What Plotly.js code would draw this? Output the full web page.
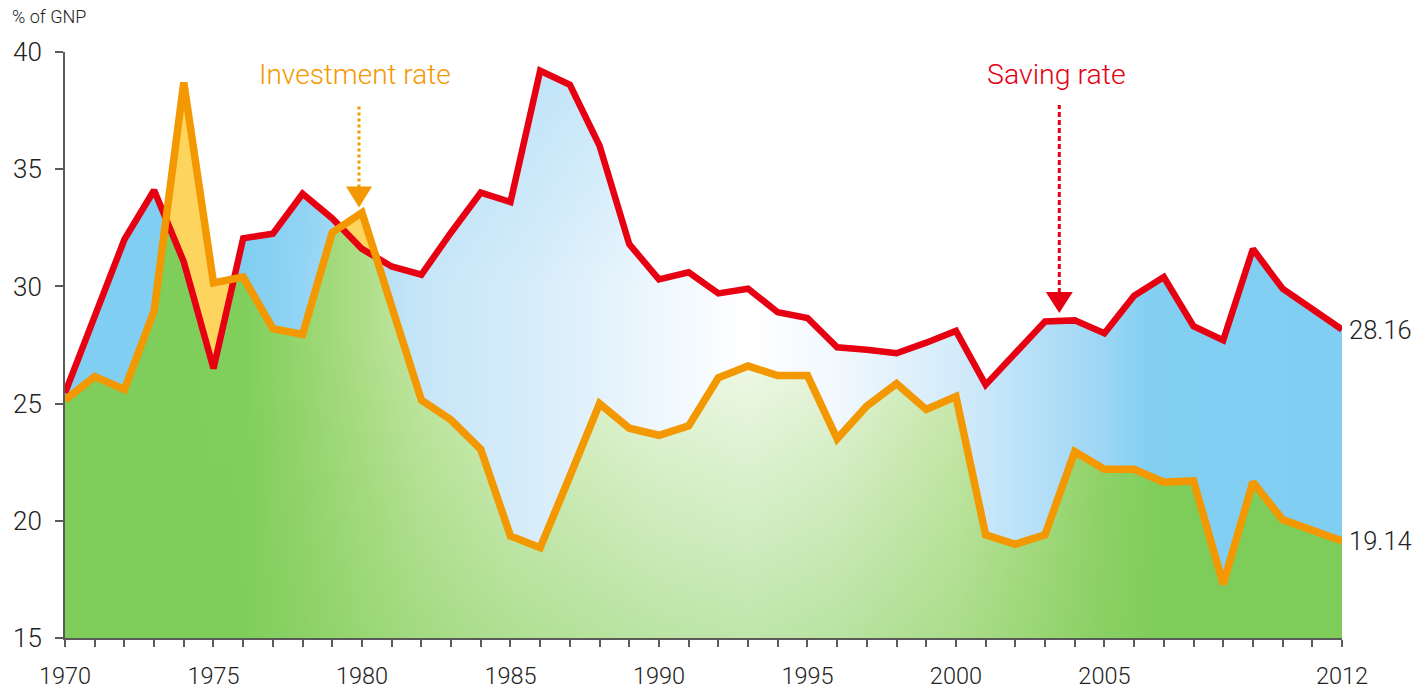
<!DOCTYPE html>
<html>
<head>
<meta charset="utf-8">
<script src="https://cdn.plot.ly/plotly-3.0.1.min.js"></script>
<style>
  html, body { margin: 0; padding: 0; background: #ffffff; }
  #chart { width: 1417px; height: 690px; }
</style>
</head>
<body>
<div id="chart"></div>
<script>
// ---- data (% of GNP) ----
// The reference draws its final observation (labelled 2012) on the 44th yearly tick,
// so the last point sits one tick after 2011 on the yearly grid.
const years = [1970, 1971, 1972, 1973, 1974, 1975, 1976, 1977, 1978, 1979,
               1980, 1981, 1982, 1983, 1984, 1985, 1986, 1987, 1988, 1989,
               1990, 1991, 1992, 1993, 1994, 1995, 1996, 1997, 1998, 1999,
               2000, 2001, 2002, 2003, 2004, 2005, 2006, 2007, 2008, 2009,
               2010, 2011, 2013];

const savingRate = [25.45, 28.7, 32.0, 34.1, 31.05, 26.5, 32.05, 32.25, 33.95, 32.9,
                    31.6, 30.85, 30.5, 32.3, 34.0, 33.6, 39.2, 38.6, 36.0, 31.8,
                    30.3, 30.6, 29.7, 29.9, 28.9, 28.65, 27.4, 27.3, 27.15, 27.6,
                    28.1, 25.8, 27.15, 28.5, 28.55, 28.0, 29.6, 30.4, 28.3, 27.7,
                    31.6, 29.9, 28.16];

const investmentRate = [25.15, 26.15, 25.6, 28.95, 38.7, 30.15, 30.4, 28.2, 27.95, 32.3,
                        33.15, 29.15, 25.15, 24.3, 23.05, 19.35, 18.85, 21.9, 25.0, 23.95,
                        23.65, 24.05, 26.1, 26.6, 26.2, 26.2, 23.5, 24.9, 25.85, 24.75,
                        25.3, 19.4, 19.0, 19.4, 22.95, 22.2, 22.2, 21.65, 21.7, 17.3,
                        21.65, 20.05, 19.14];

const tickLabels = ['1970', '1975', '1980', '1985', '1990', '1995', '2000', '2005', '2012'];
const tickLabelYears = [1970, 1975, 1980, 1985, 1990, 1995, 2000, 2005, years[years.length - 1]];

const seriesNames = ['Saving rate', 'Investment rate'];
const yAxisLabel = '% of GNP';

// ---- styling ----
const RED = '#E60012';
const ORANGE = '#F39800';
const YELLOW = '#FDD55E';
const AXIS = '#5a5a5a';
const TEXT = '#222222';
const FONT = 'Roboto, "Liberation Sans", Arial, sans-serif';

// lower envelope of the two series (green area), including the crossing points
function lowerEnvelope(x, a, b) {
  const ox = [], oy = [];
  for (let i = 0; i < x.length; i++) {
    ox.push(x[i]); oy.push(Math.min(a[i], b[i]));
    if (i < x.length - 1) {
      const d0 = a[i] - b[i], d1 = a[i + 1] - b[i + 1];
      if (d0 * d1 < 0) {
        const t = d0 / (d0 - d1);
        ox.push(x[i] + t * (x[i + 1] - x[i]));
        oy.push(a[i] + t * (a[i + 1] - a[i]));
      }
    }
  }
  return { x: ox, y: oy };
}
function valueAt(x, ys, xv) {
  for (let i = 0; i < x.length - 1; i++) {
    if (xv >= x[i] && xv <= x[i + 1]) {
      const t = (xv - x[i]) / (x[i + 1] - x[i]);
      return ys[i] + t * (ys[i + 1] - ys[i]);
    }
  }
  return ys[ys.length - 1];
}

const env = lowerEnvelope(years, savingRate, investmentRate);
const xFirst = years[0], xLast = years[years.length - 1];

const blueScale = [
  [0, '#80CEF2'], [0.14, '#80CEF2'], [0.186, '#93D4F4'], [0.233, '#AEDDF6'],
  [0.279, '#C6E6F8'], [0.372, '#D8EDFA'], [0.465, '#EEF7FD'], [0.535, '#FFFFFF'],
  [0.605, '#F1F8FE'], [0.698, '#D3EBFA'], [0.767, '#B3DEF7'], [0.814, '#9BD6F4'],
  [0.85, '#82CFF2'], [1, '#80CEF2']
];
const greenScale = [
  [0, '#7ECD5A'], [0.14, '#80CE5C'], [0.186, '#97D56F'], [0.233, '#AEDE88'],
  [0.279, '#C3E6A3'], [0.349, '#D8EFC2'], [0.465, '#EDF7E2'], [0.535, '#F3FAEC'],
  [0.605, '#E9F5DD'], [0.698, '#CFEAB2'], [0.767, '#ADDC86'], [0.814, '#92D26A'],
  [0.86, '#7ECD5A'], [1, '#7ECD5A']
];

const traces = [
  { // yellow: where investment exceeds saving
    x: years, y: investmentRate, type: 'scatter', mode: 'lines',
    line: { width: 0 }, fill: 'tozeroy', fillcolor: YELLOW, hoverinfo: 'skip'
  },
  { // blue area under the saving rate
    x: years, y: savingRate, type: 'scatter', mode: 'lines',
    line: { width: 0 }, fill: 'tozeroy', hoverinfo: 'skip',
    fillgradient: { type: 'horizontal', start: xFirst, stop: xLast, colorscale: blueScale }
  },
  {
    x: years, y: savingRate, type: 'scatter', mode: 'lines',
    line: { width: 0 }, fill: 'tozeroy', hoverinfo: 'skip',
    fillgradient: { type: 'vertical', start: 15, stop: 40,
      colorscale: [[0, 'rgba(128,206,242,0)'], [0.6, 'rgba(128,206,242,0)'], [1, 'rgba(128,206,242,0.3)']] }
  },
  { // green area under both series
    x: env.x, y: env.y, type: 'scatter', mode: 'lines',
    line: { width: 0 }, fill: 'tozeroy', hoverinfo: 'skip',
    fillgradient: { type: 'horizontal', start: xFirst, stop: xLast, colorscale: greenScale }
  },
  {
    x: env.x, y: env.y, type: 'scatter', mode: 'lines',
    line: { width: 0 }, fill: 'tozeroy', hoverinfo: 'skip',
    fillgradient: { type: 'vertical', start: 15, stop: 28,
      colorscale: [[0, 'rgba(126,205,90,0.45)'], [1, 'rgba(126,205,90,0)']] }
  },
  {
    name: seriesNames[0], x: years, y: savingRate, type: 'scatter', mode: 'lines',
    line: { color: RED, width: 6.5, shape: 'linear' }
  },
  {
    name: seriesNames[1], x: years, y: investmentRate, type: 'scatter', mode: 'lines',
    line: { color: ORANGE, width: 7.5, shape: 'linear' }
  }
];

// x ticks: one per year, labels only on selected ones
const tickvals = [], ticktext = [];
for (let y = xFirst; y <= xLast; y++) {
  tickvals.push(y);
  const k = tickLabelYears.indexOf(y);
  ticktext.push(k >= 0 ? tickLabels[k] : '');
}

const last = years.length - 1;
const investArrowX = 1979.9;
const savingArrowX = 2003.48;
const investAnchorY = valueAt(years, investmentRate, investArrowX);
const savingAnchorY = valueAt(years, savingRate, savingArrowX);

const layout = {
  width: 1417, height: 690,
  margin: { l: 65, r: 75, t: 52, b: 52 },
  paper_bgcolor: '#ffffff', plot_bgcolor: 'rgba(0,0,0,0)',
  showlegend: false,
  font: { family: FONT, color: TEXT, weight: 300 },
  title: {
    text: yAxisLabel, xref: 'container', yref: 'container',
    x: 12 / 1417, xanchor: 'left', y: 1 - 17 / 690, yanchor: 'middle',
    font: { size: 18, color: TEXT, family: FONT, weight: 300 }
  },
  xaxis: {
    range: [xFirst, xLast], showgrid: false, zeroline: false,
    showline: true, linecolor: AXIS, linewidth: 2,
    ticks: 'outside', ticklen: 7, tickwidth: 2, tickcolor: AXIS,
    tickmode: 'array', tickvals: tickvals, ticktext: ticktext,
    tickfont: { size: 23.5, color: TEXT, family: FONT, weight: 300 },
    ticklabelstandoff: 9
  },
  yaxis: {
    range: [15, 40], showgrid: false, zeroline: false,
    showline: true, linecolor: AXIS, linewidth: 2,
    ticks: 'outside', ticklen: 8, tickwidth: 2, tickcolor: AXIS,
    tickvals: [15, 20, 25, 30, 35, 40],
    tickfont: { size: 26, color: TEXT, family: FONT, weight: 300 },
    ticklabelstandoff: 8
  },
  annotations: [
    { xref: 'x', yref: 'y', x: 1979.75, y: 39.05, text: seriesNames[1], showarrow: false,
      font: { size: 28, color: ORANGE, family: FONT, weight: 300 } },
    { xref: 'x', yref: 'y', x: 2003.37, y: 39.05, text: seriesNames[0], showarrow: false,
      font: { size: 28.5, color: RED, family: FONT, weight: 300 } },
    { xref: 'x', yref: 'y', x: years[last], y: savingRate[last], text: savingRate[last].toFixed(2),
      showarrow: false, xanchor: 'left', yanchor: 'middle', xshift: 5,
      font: { size: 25.5, color: TEXT, family: FONT, weight: 300 } },
    { xref: 'x', yref: 'y', x: years[last], y: investmentRate[last], text: investmentRate[last].toFixed(2),
      showarrow: false, xanchor: 'left', yanchor: 'middle', xshift: 5,
      font: { size: 25.5, color: TEXT, family: FONT, weight: 300 } }
  ],
  shapes: [
    { type: 'line', xref: 'x', yref: 'y', x0: investArrowX, x1: investArrowX,
      ysizemode: 'pixel', yanchor: investAnchorY, y0: 27, y1: 108,
      line: { color: ORANGE, width: 3, dash: 'dot' } },
    { type: 'path', xref: 'x', yref: 'y', xsizemode: 'pixel', xanchor: investArrowX,
      ysizemode: 'pixel', yanchor: investAnchorY,
      path: 'M -13,28 L 13,28 L 0,7 Z', fillcolor: ORANGE, line: { width: 0 } },
    { type: 'line', xref: 'x', yref: 'y', x0: savingArrowX, x1: savingArrowX,
      ysizemode: 'pixel', yanchor: savingAnchorY, y0: 28, y1: 216,
      line: { color: RED, width: 3, dash: '5px,3px' } },
    { type: 'path', xref: 'x', yref: 'y', xsizemode: 'pixel', xanchor: savingArrowX,
      ysizemode: 'pixel', yanchor: savingAnchorY,
      path: 'M -13.5,29 L 13.5,29 L 0,8 Z', fillcolor: RED, line: { width: 0 } }
  ]
};

Plotly.newPlot('chart', traces, layout, { displayModeBar: false, staticPlot: true });
</script>
</body>
</html>
